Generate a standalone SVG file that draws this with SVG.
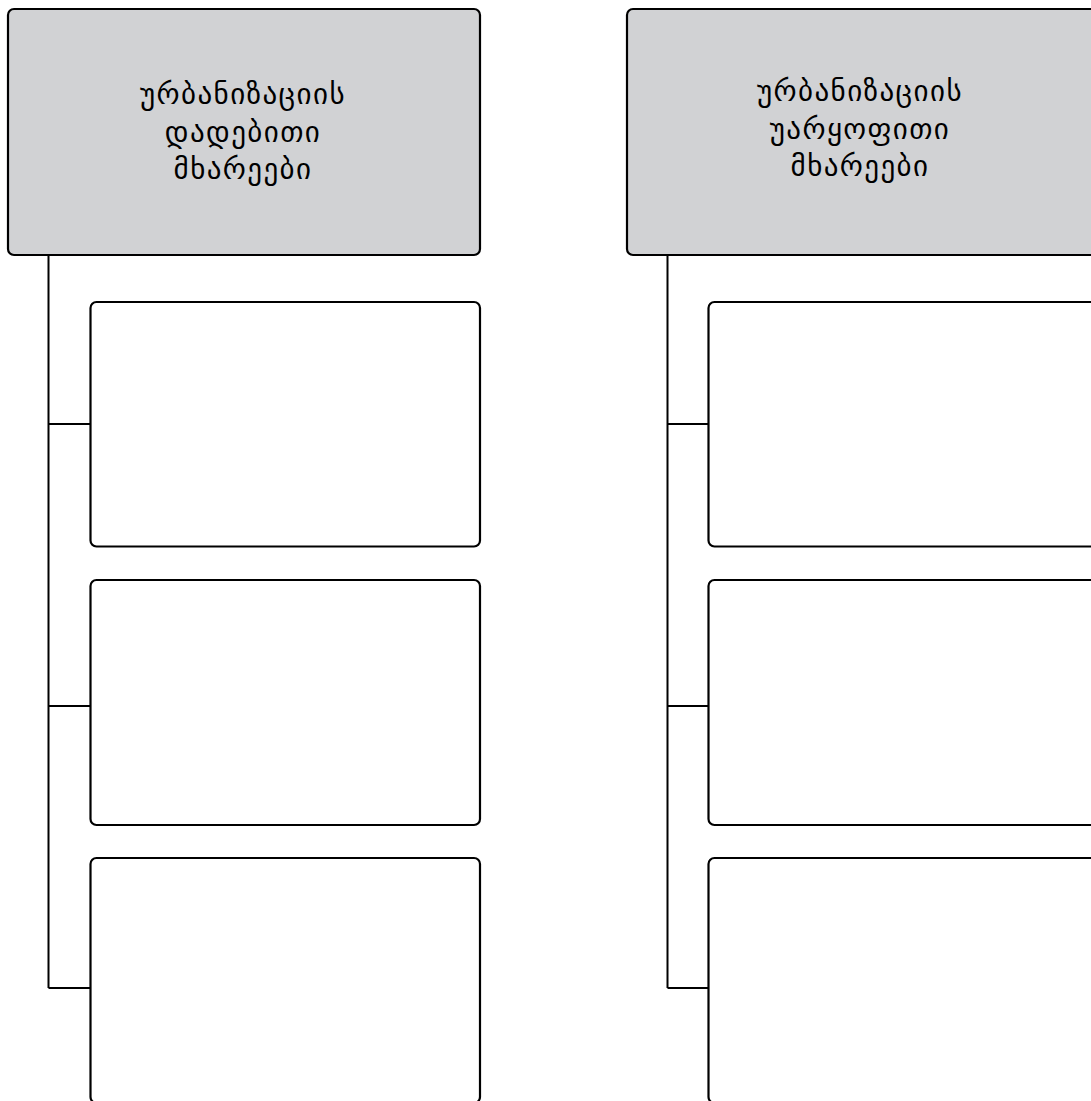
<svg xmlns="http://www.w3.org/2000/svg" width="1091" height="1101" viewBox="0 0 1091 1101">
<style>
.head{fill:#d1d2d4;stroke:#000;stroke-width:2.2}
.box{fill:#fff;stroke:#000;stroke-width:2.2}
.conn{stroke:#000;stroke-width:2;fill:none}
.lbl{font-family:"DejaVu Sans","Noto Sans",sans-serif;font-size:29px;letter-spacing:1.4px;fill:#000;text-anchor:middle}
</style>
<rect width="1091" height="1101" fill="#fff"/>
<g id="connectors">
<path class="conn" d="M48.5 255V988M48.5 424H92M48.5 706H92M48.5 988H92"/>
<path class="conn" d="M667.5 255V988M667.5 424H710M667.5 706H710M667.5 988H710"/>
</g>
<g id="left-head">
<rect class="head" x="8" y="9" width="472" height="246" rx="6"/>
<text class="lbl" x="243" y="104">ურბანიზაციის</text>
<text class="lbl" x="243" y="141.5">დადებითი</text>
<text class="lbl" x="243" y="179">მხარეები</text>
</g>
<g id="left-box1"><rect class="box" x="90.5" y="302" width="389.5" height="244.5" rx="6"/></g>
<g id="left-box2"><rect class="box" x="90.5" y="580" width="389.5" height="245" rx="6"/></g>
<g id="left-box3"><rect class="box" x="90.5" y="858" width="389.5" height="245" rx="6"/></g>
<g id="right-head">
<rect class="head" x="627" y="9" width="470" height="246" rx="6"/>
<text class="lbl" x="860" y="101">ურბანიზაციის</text>
<text class="lbl" x="860" y="138.5">უარყოფითი</text>
<text class="lbl" x="860" y="176">მხარეები</text>
</g>
<g id="right-box1"><rect class="box" x="708.5" y="302" width="392" height="244.5" rx="6"/></g>
<g id="right-box2"><rect class="box" x="708.5" y="580" width="392" height="245" rx="6"/></g>
<g id="right-box3"><rect class="box" x="708.5" y="858" width="392" height="245" rx="6"/></g>
</svg>
